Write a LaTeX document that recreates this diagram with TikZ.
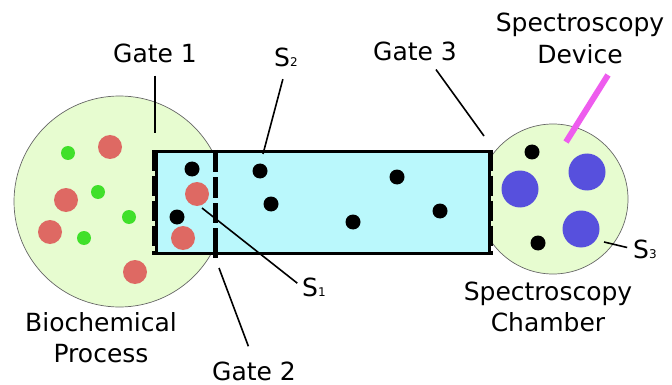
\documentclass[tikz,border=0pt]{standalone}
\usepackage{fontspec}
\setmainfont{DejaVu Sans}
\definecolor{procgreen}{HTML}{E7FCD0}
\definecolor{chcyan}{HTML}{BAF8FC}
\definecolor{molred}{HTML}{DE6963}
\definecolor{molgreen}{HTML}{40E02A}
\definecolor{molblue}{HTML}{5750DD}
\definecolor{devmag}{HTML}{EE5CEE}
\newcommand{\twolines}[2]{\begin{tabular}[t]{@{}c@{}}#1\\#2\end{tabular}}
\newcommand{\subsc}[1]{{\fontsize{12}{14}\selectfont #1}}
\tikzset{
  blackdot/.style={circle, fill=black, inner sep=0pt, minimum size=15pt},
  reddot/.style={circle, fill=molred, inner sep=0pt, minimum size=24pt},
  greendot/.style={circle, fill=molgreen, inner sep=0pt, minimum size=14pt},
  bluedot/.style={circle, fill=molblue, inner sep=0pt, minimum size=37pt},
  chamber/.style={circle, fill=procgreen, draw=black!60, line width=0.7pt, inner sep=0pt},
  lbl/.style={font=\fontsize{25}{31.5}\selectfont, inner sep=0pt},
  pointer/.style={line width=1.6pt},
  gateline/.style={line width=5pt, dash pattern=on 20pt off 5pt}
}
\begin{document}
\begin{tikzpicture}[x=1pt, y=-1pt]
\useasboundingbox (0,0) rectangle (672,385);
% chambers
\node[chamber, minimum size=211pt] (proc) at (119.5,201.5) {};
\node[chamber, minimum size=150pt] (spec) at (553,199) {};
% channel
\node[draw=black, fill=chcyan, line width=3pt, minimum width=333pt, minimum height=101pt, inner sep=0pt] (chan) at (322.5,202.5) {};
% molecules in process chamber
\foreach \p [count=\i] in {(68,153),(98,192),(129,217),(84,238)}
  \node[greendot] (gr\i) at \p {};
\foreach \p [count=\i] in {(110,147),(66,200),(50,232),(135,272),(197,194),(183,238)}
  \node[reddot] (rd\i) at \p {};
% black molecules
\foreach \p [count=\i] in {(192,169),(177,217),(260,171),(271,204),(353,222),(397,177),(440,211),(532,152),(538,243)}
  \node[blackdot] (bk\i) at \p {};
% blue molecules
\foreach \p [count=\i] in {(520,189),(587,172),(581,229)}
  \node[bluedot] (bl\i) at \p {};
% gates
\coordinate (g2top) at (215,150);
\coordinate (g2bot) at (215,258);
\draw[gateline] (chan.north west) -- (chan.south west);
\draw[line width=5pt, dash pattern=on 22pt off 5pt on 21pt off 5pt on 20pt off 5pt on 40pt off 5pt] (g2top) -- (g2bot);
\draw[gateline, line width=4.5pt] (chan.north east) -- (chan.south east);
% device probe
\coordinate (probeA) at (566,142);
\coordinate (probeB) at (608,75);
\draw[devmag, line width=6pt] (probeA) -- (probeB);
% labels
\node[lbl, anchor=base] (gate1) at (155,63) {Gate 1};
\node[lbl, anchor=base] (gate2) at (254,380) {Gate 2};
\node[lbl, anchor=base] (gate3) at (415,61) {Gate 3};
\node[lbl, anchor=base west] (s1) at (302,296) {S\subsc{1}};
\node[lbl, anchor=base west] (s2) at (274,67) {S\subsc{2}};
\node[lbl, anchor=base west] (s3) at (633,258) {S\subsc{3}};
\node[lbl, anchor=base] (dev) at (580,32) {\twolines{Spectroscopy}{Device}};
\node[lbl, anchor=base] (chlbl) at (548,300) {\twolines{Spectroscopy}{Chamber}};
\node[lbl, anchor=base] (bio) at (101,331) {\twolines{Biochemical}{Process}};
% pointers
\coordinate (g1end) at (155,133);
\coordinate (g2end) at (219,268);
\coordinate (g3end) at (484,136);
\coordinate (s1end) at (202,208);
\coordinate (s2end) at (263,154);
\coordinate (s3end) at (604,242);
\draw[pointer, shorten <=12pt] (gate1.south) -- (g1end);
\draw[pointer, shorten >=16pt] (g2end) -- (gate2.north);
\draw[pointer] ([xshift=21pt,yshift=-8pt]gate3.south) -- (g3end);
\draw[pointer, shorten >=6pt] (s1end) -- (s1.west);
\draw[pointer, shorten <=12pt] (s2.south) -- (s2end);
\draw[pointer, shorten >=6pt] (s3end) -- (s3.west);
\end{tikzpicture}
\end{document}
